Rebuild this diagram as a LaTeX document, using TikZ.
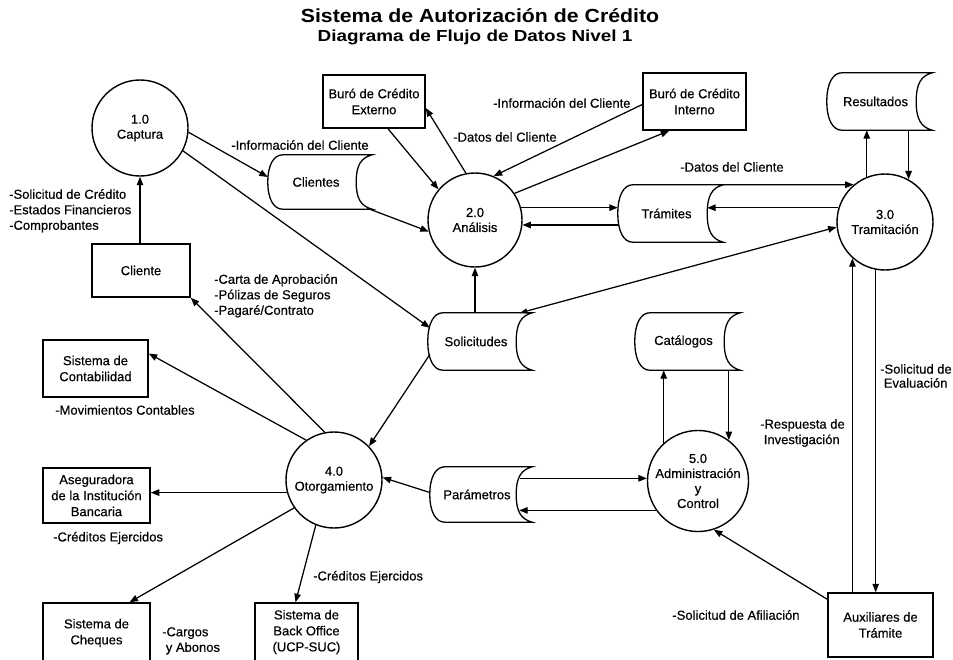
\documentclass[tikz,border=0pt]{standalone}
\usepackage{fontspec}
\setmainfont{Liberation Sans}
\newfontfamily\dfdfont[FakeBold=0.4]{Liberation Sans}
\newfontfamily\headfont[FakeStretch=1.12]{Liberation Sans}
\newfontfamily\subheadfont[FakeStretch=1.18]{Liberation Sans}
\usetikzlibrary{arrows.meta,calc}

\tikzset{
  txt/.style={font=\dfdfont\fontsize{13}{15}\selectfont},
  process/.style={circle,draw,line width=1.4pt,align=center,inner sep=0pt,txt},
  entity/.style={rectangle,draw,line width=1.5pt,align=center,inner sep=0pt,
                 font=\dfdfont\fontsize{13}{16}\selectfont},
  storenode/.style={rectangle,inner sep=0pt},
  storeline/.style={line width=1.3pt},
  flow/.style={line width=1.25pt,-{Triangle[length=8.5pt,width=6.5pt]}},
  twoway/.style={line width=1.25pt,{Triangle[length=7pt,width=5pt]}-{Triangle[length=8.5pt,width=6.5pt]}},
  lbl/.style={align=left,inner sep=0pt,font=\dfdfont\fontsize{13}{15.5}\selectfont},
}

% data store: name, x, y, width, height, text
\newcommand\datastore[6]{%
  \node[storenode,minimum width=#4,minimum height=#5] (#1) at (#2,#3) {};
  \coordinate (#1-r) at ($(#1.east)+(-16,0)$);
  \pgfmathsetmacro\sq{0.32*#5}
  \draw[storeline] ($(#1.north west)+(15,0)$) -- (#1.north east)
    .. controls +(-11,3) and +(0,-\sq) .. (#1-r)
    .. controls +(0,\sq) and +(-11,-3) .. (#1.south east)
    -- ($(#1.south west)+(15,0)$)
    .. controls +(-9,0) and +(0,\sq) .. (#1.west)
    .. controls +(0,-\sq) and +(-9,0) .. ($(#1.north west)+(15,0)$);
  \node[txt] at ($(#1.center)+(-4,0)$) {#6};
}

\begin{document}
\begin{tikzpicture}[x=1pt,y=-1pt]
\useasboundingbox (0,0) rectangle (953,659);

% titles
\node[font=\headfont\fontsize{19}{22}\bfseries\selectfont] (title) at (480,16) {Sistema de Autorización de Crédito};
\node[font=\subheadfont\fontsize{16}{18}\bfseries\selectfont] (subtitle) at (475,37) {Diagrama de Flujo de Datos Nivel 1};

% processes
\node[process,minimum size=96] (p1) at (140,128) {1.0\\Captura};
\node[process,minimum size=94] (p2) at (475,220) {2.0\\Análisis};
\node[process,minimum size=96] (p3) at (885,222) {3.0\\Tramitación};
\node[process,minimum size=96] (p4) at (334,480) {4.0\\Otorgamiento};
\node[process,minimum size=92] (p5) at (698,481) {5.0\\Administración\\y\\Control};

% external entities
\node[entity,minimum width=98,minimum height=53] (cli) at (141,270.5) {Cliente};
\node[entity,minimum width=102,minimum height=53] (bext) at (374,101.5) {Buró de Crédito\\Externo};
\node[entity,minimum width=103,minimum height=57] (bint) at (694.5,101.5) {Buró de Crédito\\Interno};
\node[entity,minimum width=105,minimum height=57] (contab) at (95.5,368.5) {Sistema de\\Contabilidad};
\node[entity,minimum width=107,minimum height=55] (aseg) at (96.5,495.5) {Aseguradora\\de la Institución\\Bancaria};
\node[entity,minimum width=107,minimum height=60] (cheq) at (96.5,633) {Sistema de\\Cheques};
\node[entity,minimum width=103,minimum height=58] (back) at (306.5,632) {Sistema de\\Back Office\\(UCP-SUC)};
\node[entity,minimum width=105,minimum height=64] (aux) at (880.5,625) {Auxiliares de\\Trámite};

% data stores
\datastore{sclientes}{320}{182}{104}{54}{Clientes}
\datastore{stram}{670.5}{213.5}{105}{57}{Trámites}
\datastore{sres}{879.5}{101.5}{105}{57}{Resultados}
\datastore{ssol}{480}{341.5}{104}{57}{Solicitudes}
\datastore{scat}{687.5}{341.5}{105}{57}{Catálogos}
\datastore{spar}{481}{494.5}{102}{55}{Parámetros}

% flows around 1.0
\draw[flow] (cli.north -| p1.south) -- (p1.south);
\draw[flow] (p1.-5) -- ($(sclientes.west)+(0,-5)$);
\draw[flow] (p1.-28) -- ($(ssol.north west)+(2,15)$);

% flows around 2.0
\draw[flow] ($(sclientes.south east)+(-5,-1)$) -- (p2.194);
\draw[flow] ($(bext.south)+(14,0)$) -- (p2.140);
\draw[flow] (p2.101) -- ($(bext.east)+(0,6.5)$);
\draw[flow] ($(bint.west)+(0,3)$) -- (p2.67);
\draw[flow] (p2.34) -- ($(bint.south west)+(27,0)$);
\draw[flow] (p2.15) -- (p2.15 -| stram.west);
\draw[flow] (stram.west |- p2.-6) -- (p2.-6);
\draw[flow] (ssol.north -| p2.south) -- (p2.south);

% flows around 3.0
\draw[flow] (stram.north east) -- (p3.130);
\draw[flow] (p3.163) -- (p3.163 -| stram-r);
\draw[twoway] ($(ssol.north east)+(-12,0)$) -- (p3.186);
\draw[flow] (p3.112) -- (p3.112 |- sres.south);
\draw[flow] (p3.61 |- sres.south) -- (p3.61);
\draw[flow] (p3.-101) -- (p3.-101 |- aux.north);
\draw[flow] (p3.-132 |- aux.north) -- (p3.-132);

% flows around 4.0
\draw[flow] ($(ssol.west)+(2,13)$) -- (p4.44);
\draw[flow] (p4.101) -- (cli.south east);
\draw[flow] (p4.125) -- ($(contab.east)+(0,-15)$);
\draw[flow] (p4.195) -- (p4.195 -| aseg.east);
\draw[flow] (p4.215) -- ($(cheq.north)+(33,0)$);
\draw[flow] (p4.248) -- ($(back.north)+(-11,0)$);
\draw[flow] ($(spar.west)+(0,-2)$) -- (p4.3);

% flows around 5.0
\draw[flow] ($(spar-r |- p5.177)+(4,0)$) -- (p5.177);
\draw[flow] (p5.215) -- ($(p5.215 -| spar-r)+(3,0)$);
\draw[flow] (p5.132) -- (p5.132 |- scat.south);
\draw[flow] (p5.53 |- scat.south) -- (p5.53);
\draw[flow] ($(aux.north west)+(0,7)$) -- (p5.-72);

% flow labels
\node[lbl,anchor=north west] (l1) at (9,189) {-Solicitud de Crédito\\-Estados Financieros\\-Comprobantes};
\node[lbl] (l2) at (300,145) {-Información del Cliente};
\node[lbl] (l3) at (505,137) {-Datos del Cliente};
\node[lbl,anchor=west] (l4) at (493,103) {-Información del Cliente};
\node[lbl] (l5) at (732,167) {-Datos del Cliente};
\node[lbl,anchor=north west] (l6) at (214,274) {-Carta de Aprobación\\-Pólizas de Seguros\\-Pagaré/Contrato};
\node[lbl] (l7) at (125,410) {-Movimientos Contables};
\node[lbl,anchor=west] (l8) at (53,538) {-Créditos Ejercidos};
\node[lbl,anchor=west] (l9) at (313,577) {-Créditos Ejercidos};
\node[lbl,anchor=north west] (l10) at (162,627) {-Cargos\\\ y Abonos};
\node[lbl,anchor=north west,font=\dfdfont\fontsize{13}{14}\selectfont] (l11) at (880,364) {-Solicitud de\\\ Evaluación};
\node[lbl,anchor=north west] (l12) at (760,419) {-Respuesta de\\\ Investigación};
\node[lbl] (l13) at (736,615) {-Solicitud de Afiliación};
\end{tikzpicture}
\end{document}
